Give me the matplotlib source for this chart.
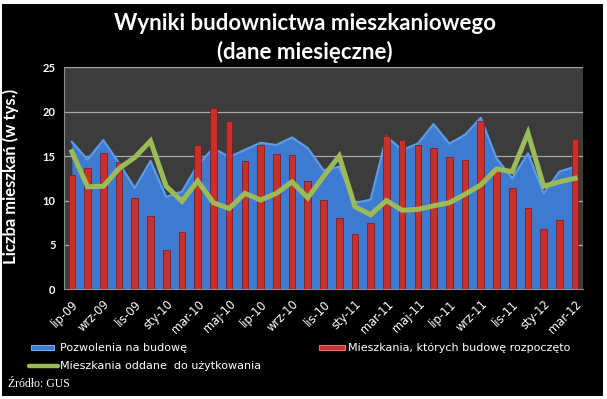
import matplotlib
matplotlib.use("Agg")
import matplotlib.pyplot as plt
import numpy as np
from matplotlib.patches import Rectangle
from matplotlib.lines import Line2D

months = ["lip-09","sie-09","wrz-09","paź-09","lis-09","gru-09","sty-10","lut-10","mar-10","kwi-10",
          "maj-10","cze-10","lip-10","sie-10","wrz-10","paź-10","lis-10","gru-10","sty-11","lut-11",
          "mar-11","kwi-11","maj-11","cze-11","lip-11","sie-11","wrz-11","paź-11","lis-11","gru-11",
          "sty-12","lut-12","mar-12"]

pozwolenia = [16.6, 14.6, 16.8, 14.2, 11.4, 14.45, 10.4, 11.0, 14.0, 15.9,
              14.9, 15.7, 16.5, 16.25, 17.1, 15.9, 13.4, 13.8, 9.7, 10.1,
              17.2, 15.7, 16.4, 18.6, 16.4, 17.4, 19.3, 14.75, 12.5, 15.3,
              10.8, 13.25, 13.8]

rozpoczete = [12.9, 13.7, 15.4, 14.3, 10.25, 8.3, 4.4, 6.5, 16.2, 20.4,
              18.95, 14.4, 16.3, 15.2, 15.1, 12.2, 10.1, 8.0, 6.2, 7.5,
              17.3, 16.8, 16.25, 15.9, 14.9, 14.6, 19.0, 13.4, 11.4, 9.1,
              6.75, 7.8, 16.9]

oddane = [15.5, 11.55, 11.6, 13.6, 14.85, 16.7, 11.6, 9.9, 12.2, 9.75,
          9.1, 10.8, 10.05, 10.8, 12.1, 10.3, 12.7, 15.0, 9.3, 8.4,
          10.0, 8.9, 9.0, 9.4, 9.75, 10.7, 11.75, 13.55, 13.25, 17.6,
          11.6, 12.1, 12.5]

yticks = [0, 5, 10, 15, 20, 25]

W, H = 607, 399
fig = plt.figure(figsize=(W/100, H/100), dpi=100)
fig.patch.set_facecolor("white")
# black panel
fig.patches.append(Rectangle((2/W, 3/H), 601/W, 392/H, transform=fig.transFigure,
                             facecolor="black", edgecolor="none", zorder=-10))

ax = fig.add_axes([64/W, 1-289.3/H, 519/W, 222/H])
ax.set_zorder(5)
ax.set_facecolor("#3c3c3c")
x = np.arange(len(months))

for v in yticks[1:]:
    ax.axhline(v, color="#a8a8a8", lw=0.9, zorder=1)

ax.fill_between(x, pozwolenia, 0, color="#3d7ad0", lw=0, zorder=2)
ax.plot(x, pozwolenia, color="#5b9be8", lw=1.6, zorder=2.5)
ax.bar(x, rozpoczete, width=0.42, color="#c8302c", edgecolor="#7e1512", linewidth=0.5, zorder=3)
ax.plot(x, oddane, color="#9bbb59", lw=3.6, zorder=4, solid_joinstyle="miter")

ax.set_xlim(-0.5, len(months)-0.5)
ax.set_ylim(0, 25)
ax.set_yticks(yticks)
ax.set_yticklabels([str(v) for v in yticks], color="white", fontsize=8, fontweight="bold",
                   family=["Lato", "DejaVu Sans"])
ax.set_xticks(x[::2])
ax.set_xticklabels(months[::2], rotation=45, ha="right", va="top", rotation_mode="anchor",
                   color="white", fontsize=8.3, family=["DejaVu Sans"])
ax.tick_params(axis="both", length=0, pad=6)
ax.tick_params(axis="x", pad=6)
for s in ["top", "right"]:
    ax.spines[s].set_visible(False)
ax.spines["left"].set_color("#8c8c8c")
ax.spines["bottom"].set_color("#8c8c8c")

ax.set_ylabel("Liczba mieszkań (w tys.)", color="white", fontsize=12, fontweight="bold",
              family=["Lato", "DejaVu Sans"])
ax.yaxis.set_label_coords(-(64-19.5)/519, 0.51)

fig.text(305/W, 1-24/H, "Wyniki budownictwa mieszkaniowego", color="white", fontsize=16,
         fontweight="bold", ha="center", va="center", family=["Lato", "DejaVu Sans"])
fig.text(305/W, 1-52/H, "(dane miesięczne)", color="white", fontsize=16,
         fontweight="bold", ha="center", va="center", family=["Lato", "DejaVu Sans"])

# legend
fig.patches.append(Rectangle((31/W, 1-350/H), 23/W, 5/H, transform=fig.transFigure,
                             facecolor="#3d7ad0", edgecolor="#6fa8ee", lw=0.8))
fig.text(60/W, 1-348/H, "Pozwolenia na budowę", color="white", fontsize=8, va="center",
         family=["DejaVu Sans"])
fig.patches.append(Rectangle((319/W, 1-350/H), 26/W, 5/H, transform=fig.transFigure,
                             facecolor="#c8302c", edgecolor="#e07070", lw=0.8))
fig.text(348/W, 1-348/H, "Mieszkania, których budowę rozpoczęto", color="white", fontsize=8,
         va="center", family=["DejaVu Sans"])
fig.lines.append(Line2D([29/W, 58/W], [1-366/H, 1-366/H], transform=fig.transFigure,
                        color="#9bbb59", lw=3.2, solid_capstyle="round"))
fig.text(60/W, 1-366/H, "Mieszkania oddane  do użytkowania", color="white", fontsize=8,
         va="center", family=["DejaVu Sans"])
fig.text(8/W, 1-384/H, "Źródło: GUS", color="white", fontsize=8.5, va="center",
         family=["Liberation Serif", "DejaVu Serif"])

fig.savefig("out.png", dpi=100, facecolor=fig.get_facecolor())
